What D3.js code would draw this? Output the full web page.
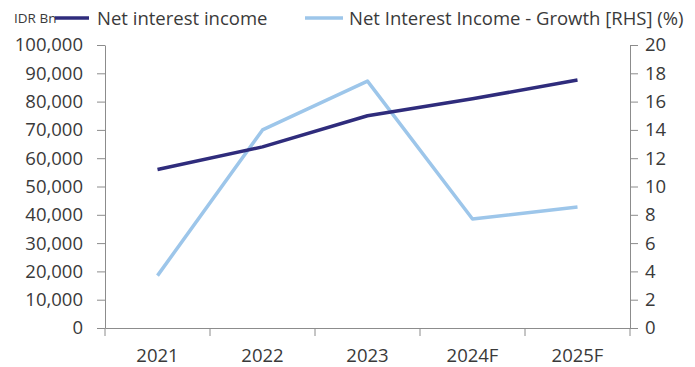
<!DOCTYPE html>
<html>
<head>
<meta charset="utf-8">
<script src="https://cdn.jsdelivr.net/npm/d3@7"></script>
<style>
  body { margin: 0; background: #fff; }
  svg { display: block; }
  text { font-family: "Open Sans", sans-serif; fill: #3a3a3a; }
</style>
</head>
<body>
<svg id="chart" width="695" height="367"></svg>
<script>
// chart data
var years = ["2021", "2022", "2023", "2024F", "2025F"];
var netInterestIncome = [56000, 64000, 75000, 81000, 87600];
var niiGrowth = [3.7, 14.0, 17.45, 7.7, 8.55];
var leftTicks = [0, 10000, 20000, 30000, 40000, 50000, 60000, 70000, 80000, 90000, 100000];
var rightTicks = [0, 2, 4, 6, 8, 10, 12, 14, 16, 18, 20];

function drawChart(){
    var svg = d3.select("#chart");
    var left = 105, right = 630, top = 45, bottom = 328;

    var x = d3.scaleBand().domain(years).range([left, right]);
    var yL = d3.scaleLinear().domain([0, 100000]).range([bottom, top]);
    var yR = d3.scaleLinear().domain([0, 20]).range([bottom, top]);

    var fmt = d3.format(",");

    // left axis
    var axL = svg.append("g")
        .attr("transform", "translate(" + left + ",0)")
        .call(d3.axisLeft(yL).tickValues(leftTicks).tickFormat(fmt).tickSize(8).tickSizeOuter(0));
    // right axis
    var axR = svg.append("g")
        .attr("transform", "translate(" + right + ",0)")
        .call(d3.axisRight(yR).tickValues(rightTicks).tickSize(8).tickSizeOuter(0));
    // bottom axis, ticks sit between the categories
    var axB = svg.append("g")
        .attr("transform", "translate(0," + bottom + ")")
        .call(d3.axisBottom(x).tickSize(0));
    axB.selectAll(".tick text").attr("dy", "1.65em");
    var edges = years.map(function(d){ return x(d); }).concat([right]);
    axB.selectAll(".sep").data(edges).enter().append("line")
        .attr("class", "sep")
        .attr("x1", function(d){ return d; }).attr("x2", function(d){ return d; })
        .attr("y1", 0).attr("y2", 8)
        .attr("stroke", "#8c8c8c");

    [axL, axR, axB].forEach(function(a){
        a.select(".domain").attr("stroke", "#8c8c8c");
        a.selectAll(".tick line").attr("stroke", "#8c8c8c");
        a.selectAll(".tick text").attr("font-size", 18.5).attr("fill", "#3a3a3a")
            .style("font-family", "'Open Sans', sans-serif");
    });
    axL.selectAll(".tick text").attr("x", -22);
    axR.selectAll(".tick text").attr("x", 15);

    var cx = function(d, i){ return x(years[i]) + x.bandwidth() / 2; };

    // growth line (RHS)
    svg.append("path")
        .datum(niiGrowth)
        .attr("fill", "none")
        .attr("stroke", "#9dc6ea")
        .attr("stroke-width", 3.5)
        .attr("stroke-linejoin", "round")
        .attr("d", d3.line().x(cx).y(function(d){ return yR(d); }));

    // net interest income line
    svg.append("path")
        .datum(netInterestIncome)
        .attr("fill", "none")
        .attr("stroke", "#2f2c7c")
        .attr("stroke-width", 3.5)
        .attr("stroke-linejoin", "round")
        .attr("d", d3.line().x(cx).y(function(d){ return yL(d); }));

    // unit label and legend
    svg.append("text").attr("x", 14).attr("y", 23).attr("font-size", 13.5).text("IDR Bn");

    var legend = [
        {name: "Net interest income", color: "#2f2c7c", x0: 55, x1: 89, tx: 97},
        {name: "Net Interest Income - Growth [RHS] (%)", color: "#9dc6ea", x0: 305, x1: 343, tx: 349}
    ];
    legend.forEach(function(l){
        svg.append("line")
            .attr("x1", l.x0).attr("x2", l.x1).attr("y1", 18).attr("y2", 18)
            .attr("stroke", l.color).attr("stroke-width", 3.5);
        svg.append("text").attr("x", l.tx).attr("y", 24.5).attr("font-size", 18.5).text(l.name);
    });
}

drawChart();
</script>
</body>
</html>
